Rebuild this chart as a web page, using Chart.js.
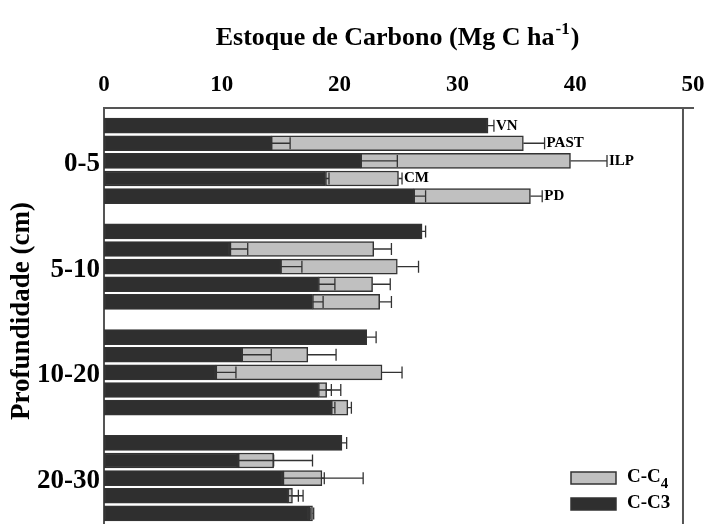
<!DOCTYPE html>
<html>
<head>
<meta charset="utf-8">
<script src="https://cdn.jsdelivr.net/npm/chart.js@4.4.1/dist/chart.umd.min.js"></script>
<style>
  html, body { margin: 0; padding: 0; background: #fff; overflow: hidden; }
  #wrap { position: relative; width: 709px; height: 531px; }
</style>
</head>
<body>
<div id="wrap"><canvas id="stockChart"></canvas></div>
<script>
/* ---------- DATA ---------- */
const depths = ["0-5", "5-10", "10-20", "20-30"];
const systems = ["VN", "PAST", "ILP", "CM", "PD"];

// C-C3 stock per depth (rows) and system (columns)
const c3Values = [
  [32.6, 14.2, 21.8, 18.8, 26.3],
  [27.0, 10.7, 15.0, 18.2, 17.7],
  [22.3, 11.7,  9.5, 18.2, 19.3],
  [20.2, 11.4, 15.2, 15.6, 17.4]
];
const c3Errors = [
  [0.5, 1.6, 3.1, 0.3, 1.0],
  [0.3, 1.5, 1.8, 1.4, 0.9],
  [0.8, 2.5, 1.7, 1.1, 0.3],
  [0.4, 3.0, 3.5, 0.9, 0.1]
];
// C-C4 stock (stacked on top of C-C3)
const c4Values = [
  [0, 21.4, 17.8, 6.2, 9.9],
  [0, 12.2,  9.9, 4.6, 5.7],
  [0,  5.6, 14.1, 0.7, 1.4],
  [0,  3.0,  3.3, 0.4, 0.3]
];
const c4Errors = [
  [0, 1.8, 3.1, 0.3, 1.0],
  [0, 1.5, 1.8, 1.5, 1.0],
  [0, 2.4, 1.7, 1.2, 0.3],
  [0, 3.3, 3.5, 0.9, 0.1]
];
const xTicks = [0, 10, 20, 30, 40, 50];

/* ---------- SLOTS (one empty slot on top, one gap between depths) ---------- */
const slotLabels = [""];
const slotOf = [];          // slotOf[g][k] -> slot index
const groupCenter = {};     // slot index -> depth label
depths.forEach(function (d, g) {
  slotOf.push([]);
  systems.forEach(function (s, k) {
    slotOf[g].push(slotLabels.length);
    slotLabels.push(d + " " + s);
  });
  groupCenter[slotOf[g][2]] = d;
  slotLabels.push("");
});

const c3Data = slotLabels.map(() => null);
const c4Data = slotLabels.map(() => null);
depths.forEach(function (d, g) {
  systems.forEach(function (s, k) {
    c3Data[slotOf[g][k]] = c3Values[g][k];
    c4Data[slotOf[g][k]] = c4Values[g][k];
  });
});

const serif = "'Liberation Serif', 'Times New Roman', serif";
const DARK = "#2f2f2f";
const LIGHT = "#c0c0c0";
const EDGE = "#333333";

/* ---------- TITLES, ERROR BARS, SYSTEM LABELS, FRAME, LEGEND ---------- */
const extrasPlugin = {
  id: "extras",
  afterDatasetsDraw(chart) {
    const ctx = chart.ctx;
    const x = chart.scales.x;
    const y = chart.scales.y;
    const area = chart.chartArea;
    const cap = 6;

    ctx.save();
    // x axis title with superscript
    const mainTxt = "Estoque de Carbono (Mg C ha";
    ctx.fillStyle = "#000";
    ctx.textBaseline = "alphabetic";
    ctx.textAlign = "left";
    ctx.font = "bold 26px " + serif;
    const wMain = ctx.measureText(mainTxt).width;
    const wClose = ctx.measureText(")").width;
    ctx.font = "bold 17px " + serif;
    const wSup = ctx.measureText("-1").width;
    let tx = (area.left + area.right) / 2 - (wMain + wSup + wClose) / 2 - 2;
    ctx.font = "bold 26px " + serif;
    ctx.fillText(mainTxt, tx, 45);
    ctx.font = "bold 17px " + serif;
    ctx.fillText("-1", tx + wMain + 1, 34);
    ctx.font = "bold 26px " + serif;
    ctx.fillText(")", tx + wMain + wSup + 2, 45);

    // y axis title
    ctx.save();
    ctx.translate(22, 311);
    ctx.rotate(-Math.PI / 2);
    ctx.font = "bold 27px " + serif;
    ctx.textAlign = "center";
    ctx.textBaseline = "middle";
    ctx.fillText("Profundidade (cm)", 0, 0);
    ctx.restore();

    // right frame line
    ctx.strokeStyle = "#555";
    ctx.lineWidth = 2;
    ctx.beginPath();
    ctx.moveTo(x.getPixelForValue(49.15), area.top);
    ctx.lineTo(x.getPixelForValue(49.15), area.bottom);
    ctx.stroke();

    ctx.strokeStyle = EDGE;
    ctx.lineWidth = 1.3;
    function errBar(from, to, yc) {
      const x0 = x.getPixelForValue(from);
      const x1 = x.getPixelForValue(to);
      ctx.beginPath();
      ctx.moveTo(x0, yc);
      ctx.lineTo(x1, yc);
      ctx.moveTo(x1, yc - cap);
      ctx.lineTo(x1, yc + cap);
      ctx.stroke();
    }

    depths.forEach(function (d, g) {
      systems.forEach(function (s, k) {
        const yc = y.getPixelForValue(slotOf[g][k]);
        const c3 = c3Values[g][k];
        const c4 = c4Values[g][k];
        let end = c3 + c3Errors[g][k];
        errBar(c3, end, yc);
        if (c4 > 0) {
          const tot = c3 + c4;
          errBar(tot, tot + c4Errors[g][k], yc);
          end = Math.max(end, tot + c4Errors[g][k]);
        }
        if (g === 0) {
          ctx.fillStyle = "#000";
          ctx.font = "bold 15px " + serif;
          ctx.textAlign = "left";
          ctx.textBaseline = "middle";
          ctx.fillText(s, x.getPixelForValue(end) + 2, yc);
        }
      });
    });

    // legend (C-C4 above C-C3)
    const entries = [
      { main: "C-C", sub: "4", color: LIGHT },
      { main: "C-C3", sub: "", color: DARK }
    ];
    const bx = area.right - 122;
    entries.forEach(function (e, i) {
      const by = 472 + i * 26;
      ctx.fillStyle = e.color;
      ctx.fillRect(bx, by, 45, 12);
      ctx.strokeStyle = EDGE;
      ctx.lineWidth = 1.5;
      ctx.strokeRect(bx, by, 45, 12);
      ctx.fillStyle = "#000";
      ctx.font = "bold 19px " + serif;
      ctx.textAlign = "left";
      ctx.textBaseline = "middle";
      ctx.fillText(e.main, bx + 56, by + 5);
      if (e.sub) {
        const w = ctx.measureText(e.main).width;
        ctx.font = "bold 15px " + serif;
        ctx.fillText(e.sub, bx + 56 + w, by + 12);
      }
    });
    ctx.restore();
  }
};

/* ---------- CHART ---------- */
document.addEventListener("DOMContentLoaded", function () {
  const ctx = document.getElementById("stockChart").getContext("2d");

  new Chart(ctx, {
    type: "bar",
    data: {
      labels: slotLabels,
      datasets: [
        {
          label: "C-C3",
          data: c3Data,
          backgroundColor: DARK,
          borderColor: EDGE,
          borderWidth: 1.5,
          borderSkipped: false,
          barThickness: 15
        },
        {
          label: "C-C4",
          data: c4Data,
          backgroundColor: LIGHT,
          borderColor: EDGE,
          borderWidth: 1.5,
          borderSkipped: false,
          barThickness: 15
        }
      ]
    },
    options: {
      indexAxis: "y",
      responsive: true,
      maintainAspectRatio: false,
      animation: false,
      layout: { padding: { left: 0, top: 0, right: 16, bottom: 0 } },
      plugins: {
        legend: { display: false },
        tooltip: { enabled: false }
      },
      scales: {
        x: {
          type: "linear",
          position: "top",
          stacked: true,
          min: 0,
          max: 50,
          afterBuildTicks: function (scale) {
            scale.ticks = xTicks.map(v => ({ value: v }));
          },
          afterFit: function (scale) {
            scale.height = 108;
            scale.paddingLeft = 0;
            scale.paddingRight = 0;
          },
          grid: { display: false, drawTicks: false },
          border: { display: true, color: "#555", width: 2 },
          ticks: {
            color: "#000",
            padding: 9,
            font: { family: serif, size: 23, weight: "bold" }
          }
        },
        y: {
          type: "category",
          stacked: true,
          offset: false,
          afterFit: function (scale) {
            scale.width = 104;
            scale.paddingTop = 0;
            scale.paddingBottom = 0;
          },
          grid: { display: false, drawTicks: false },
          border: { display: true, color: "#555", width: 2 },
          ticks: {
            autoSkip: false,
            color: "#000",
            padding: 4,
            labelOffset: 3,
            font: { family: serif, size: 27, weight: "bold" },
            callback: function (value, index) {
              return groupCenter[index] || "";
            }
          }
        }
      }
    },
    plugins: [extrasPlugin]
  });
});
</script>
</body>
</html>
